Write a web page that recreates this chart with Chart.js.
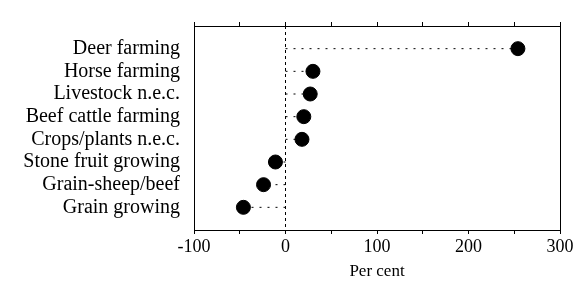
<!DOCTYPE html>
<html>
<head>
<meta charset="utf-8">
<script src="https://cdn.jsdelivr.net/npm/chart.js@4.4.0/dist/chart.umd.min.js"></script>
<style>
  html, body { margin: 0; padding: 0; background: #fff; }
  #wrap { width: 576px; height: 290px; }
</style>
</head>
<body>
<div id="wrap"><canvas id="mycanvas"></canvas></div>
<script>
var industries = ['Deer farming', 'Horse farming', 'Livestock n.e.c.', 'Beef cattle farming',
                  'Crops/plants n.e.c.', 'Stone fruit growing', 'Grain-sheep/beef', 'Grain growing'];
var change = [254, 30, 27, 20, 18, -11, -24, -46];
var xTicks = [-100, 0, 100, 200, 300];

var serif = 'Liberation Serif, Times New Roman, serif';

// dots, plus dotted stems from zero
var dots = [];
var stems = [];
for (var i in industries) {
    var row = Number(i) + 1;
    dots.push({x: change[i], y: row});
    stems.push({x: 0, y: row});
    stems.push({x: change[i], y: row});
    stems.push({x: null, y: null});
}

var ctx = document.getElementById('mycanvas');
var chart = new Chart(ctx, {
    type: 'scatter',
    data: {
        datasets: [
            {
                label: 'stems',
                type: 'line',
                data: stems,
                borderColor: '#000',
                borderWidth: 1,
                borderDash: [2, 6],
                pointRadius: 0,
                spanGaps: false,
                order: 2
            },
            {
                label: 'Per cent',
                data: dots,
                backgroundColor: '#000',
                borderColor: '#000',
                pointRadius: 7,
                pointHoverRadius: 7,
                order: 1
            }
        ]
    },
    options: {
        responsive: true,
        maintainAspectRatio: false,
        animation: false,
        layout: {padding: {top: 14, right: 14, left: 0, bottom: 4}},
        plugins: {legend: {display: false}, tooltip: {enabled: false}},
        scales: {
            x: {
                type: 'linear',
                min: -100, max: 300,
                ticks: {
                    stepSize: 50,
                    autoSkip: false,
                    color: '#000',
                    font: {family: serif, size: 18},
                    maxRotation: 0,
                    padding: 2,
                    callback: function (v) { return xTicks.indexOf(v) >= 0 ? String(v) : ''; }
                },
                grid: {
                    drawOnChartArea: true,
                    tickLength: 4,
                    tickColor: '#000',
                    color: function (c) { return c.tick && c.tick.value === 0 ? '#000' : 'rgba(0,0,0,0)'; },
                    lineWidth: 1
                },
                border: {display: true, color: '#000', width: 1, dash: [3, 3]},
                title: {display: true, text: 'Per cent', color: '#000', font: {family: serif, size: 17}, padding: {top: 2}}
            },
            x2: {
                type: 'linear',
                position: 'top',
                min: -100, max: 300,
                ticks: {stepSize: 50, display: false},
                grid: {drawOnChartArea: false, tickLength: 4, tickColor: '#000'},
                border: {display: true, color: '#000', width: 1}
            },
            y: {
                type: 'linear',
                reverse: true,
                min: 0, max: 9,
                afterFit: function (s) { s.width = 194; },
                ticks: {
                    stepSize: 1,
                    autoSkip: false,
                    color: '#000',
                    font: {family: serif, size: 20},
                    padding: 14,
                    callback: function (v) { return industries[v - 1] || ''; }
                },
                grid: {display: false, drawTicks: false},
                border: {display: true, color: '#000', width: 1}
            },
            y2: {
                type: 'linear',
                position: 'right',
                reverse: true,
                min: 0, max: 9,
                afterFit: function (s) { s.width = 2; },
                ticks: {display: false},
                grid: {display: false, drawTicks: false},
                border: {display: true, color: '#000', width: 1}
            }
        }
    }
});
</script>
</body>
</html>
